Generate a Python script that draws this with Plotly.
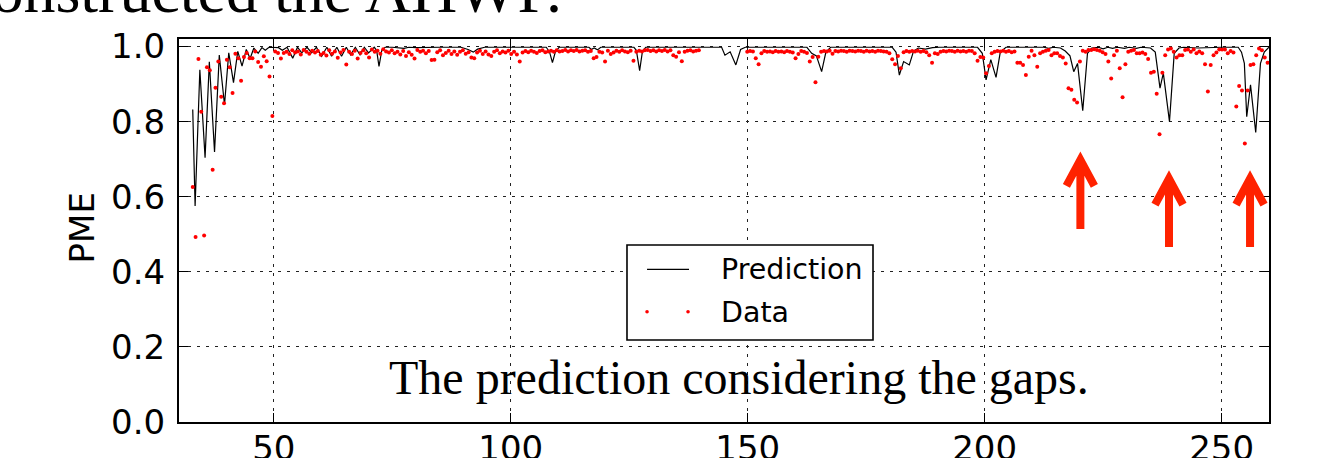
import numpy as np
import plotly.graph_objects as go

# ---------------- data ----------------
pred_x = [
    32.9, 33.4, 34.4, 35.5, 36.4, 37.5, 38.5, 39.6, 40.5, 41.5,
    42.4, 43.3, 44.2, 45.0, 45.8, 46.7, 47.5, 48.2, 49.0, 50.0,
    51.0, 51.8, 52.8, 54.0, 55.0, 55.9, 57.0, 58.0, 59.0, 60.1,
    61.2, 62.2, 63.3, 64.3, 65.3, 66.2, 67.2, 68.2, 69.1, 70.0,
    71.2, 71.7, 72.2, 72.8, 73.5, 75.0, 77.5, 78.5, 80.0, 85.0,
    89.5, 91.0, 92.1, 93.0, 94.5, 107.5, 108.2, 108.8, 109.4, 110.2,
    116.5, 117.0, 117.6, 118.3, 119.0, 126.0, 126.5, 127.2, 127.8, 128.5,
    144.5, 145.2, 146.3, 147.5, 148.5, 149.5, 162.5, 163.5, 164.5, 165.6,
    166.5, 167.5, 180.5, 181.3, 182.0, 182.9, 184.1, 185.0, 186.0, 187.5,
    189.0, 190.5, 198.5, 199.5, 200.3, 201.3, 202.4, 203.3, 204.5, 212.5,
    213.5, 214.5, 216.0, 217.0, 218.0, 218.8, 219.6, 220.7, 221.7, 222.6,
    224.0, 225.0, 226.0, 227.0, 228.0, 229.5, 230.5, 232.0, 233.0, 235.0,
    236.0, 237.0, 237.7, 239.0, 240.0, 241.0, 242.0, 245.0, 248.0, 250.0,
    253.5, 254.2, 254.8, 255.3, 256.1, 257.2, 258.2, 259.0, 260.0,
]
pred_y = [
    0.832, 0.575, 0.938, 0.704, 0.959, 0.719, 0.977, 0.845, 0.983, 0.904,
    0.987, 0.948, 0.992, 0.968, 0.996, 0.982, 0.997, 0.990, 0.998, 0.998,
    0.997, 0.990, 0.998, 0.969, 0.998, 0.983, 0.998, 0.983, 0.998, 0.974,
    0.998, 0.974, 0.998, 0.974, 0.998, 0.978, 0.998, 0.978, 0.998, 0.983,
    0.998, 0.990, 0.947, 0.990, 0.998, 0.998, 0.995, 0.998, 0.997, 0.998,
    0.998, 0.992, 0.985, 0.993, 0.998, 0.998, 0.985, 0.957, 0.985, 0.998,
    0.998, 0.992, 0.996, 0.991, 0.998, 0.998, 0.990, 0.936, 0.988, 0.998,
    0.998, 0.977, 0.986, 0.951, 0.992, 0.998, 0.998, 0.982, 0.975, 0.933,
    0.985, 0.998, 0.998, 0.985, 0.924, 0.960, 0.951, 0.988, 0.996, 0.993,
    0.997, 0.998, 0.998, 0.982, 0.911, 0.965, 0.918, 0.985, 0.998, 0.998,
    0.995, 0.998, 0.996, 0.988, 0.975, 0.933, 0.955, 0.829, 0.982, 0.996,
    0.998, 0.994, 0.998, 0.995, 0.998, 0.995, 0.998, 0.995, 0.998, 0.996,
    0.985, 0.889, 0.929, 0.800, 0.982, 0.996, 0.998, 0.996, 0.998, 0.998,
    0.998, 0.985, 0.955, 0.813, 0.898, 0.771, 0.955, 0.985, 0.998,
]

# measured samples: two runs separated by a gap, one sample every 0.6 units
data_start = [32.9, 149.9]
data_step = 0.6
data_y_run1 = [
    0.626, 0.493, 0.967, 0.826, 0.497, 0.945, 0.937, 0.672, 0.890, 0.960,
    0.866, 0.849, 0.965, 0.945, 0.876, 0.981, 0.969, 0.909, 0.972, 0.983,
    0.969, 0.969, 0.987, 0.959, 0.946, 0.974, 0.961, 0.920, 0.815, 0.987,
    0.983, 0.968, 0.983,
    0.986, 0.980, 0.990, 0.984, 0.987, 0.979, 0.991, 0.986, 0.981, 0.989,
    0.984, 0.988, 0.978, 0.983, 0.976, 0.990, 0.981, 0.987, 0.970, 0.984,
    0.991, 0.952, 0.986, 0.980, 0.989, 0.968, 0.983, 0.990, 0.982, 0.971,
    0.992, 0.986, 0.989, 0.981, 0.993, 0.987, 0.984, 0.990, 0.982, 0.986,
    0.979, 0.988, 0.975, 0.985, 0.978, 0.968, 0.991, 0.986, 0.989, 0.982,
    0.988, 0.964, 0.965, 0.985, 0.990, 0.977, 0.983, 0.989, 0.980, 0.987,
    0.978, 0.986, 0.990, 0.981, 0.985, 0.971, 0.969, 0.984, 0.989, 0.980,
    0.987, 0.979, 0.975, 0.986, 0.990, 0.982, 0.987, 0.984, 0.989, 0.980,
    0.986, 0.979, 0.960, 0.984, 0.988, 0.985, 0.989, 0.986, 0.983, 0.988,
    0.990, 0.985, 0.987, 0.989, 0.986, 0.990, 0.987, 0.988, 0.991, 0.987,
    0.990, 0.988, 0.991, 0.987, 0.989, 0.990, 0.986, 0.988, 0.969, 0.972,
    0.986, 0.984, 0.960, 0.989, 0.980, 0.984, 0.989, 0.986, 0.990, 0.987,
    0.985, 0.989, 0.962, 0.986, 0.989, 0.987, 0.990, 0.991, 0.988, 0.990,
    0.987, 0.990, 0.988, 0.991, 0.987, 0.990, 0.977, 0.973, 0.985, 0.961,
    0.986, 0.989, 0.990, 0.987, 0.989, 0.990,
]
data_y_run2 = [
    0.986, 0.988, 0.987, 0.969, 0.953, 0.982, 0.988, 0.986, 0.987, 0.985,
    0.988, 0.986, 0.987, 0.985, 0.988, 0.986, 0.984, 0.969, 0.980, 0.988,
    0.986, 0.983, 0.960, 0.972, 0.905, 0.973, 0.986, 0.988, 0.987, 0.989,
    0.981, 0.988, 0.987, 0.989, 0.988, 0.986, 0.989, 0.988, 0.987, 0.989,
    0.988, 0.986, 0.989, 0.987, 0.988, 0.986, 0.989, 0.988, 0.987, 0.986,
    0.982, 0.966, 0.953, 0.975, 0.942, 0.985, 0.988, 0.986, 0.988, 0.987,
    0.989, 0.986, 0.988, 0.985, 0.977, 0.957, 0.982, 0.980, 0.986, 0.988,
    0.987, 0.989, 0.988, 0.986, 0.989, 0.987, 0.988, 0.986, 0.989, 0.988,
    0.982, 0.962, 0.972, 0.971, 0.929, 0.948, 0.982, 0.986, 0.988, 0.987,
    0.989, 0.986, 0.988, 0.985, 0.987, 0.957, 0.957, 0.951, 0.924, 0.973,
    0.989, 0.977, 0.946, 0.982, 0.986, 0.989, 0.991, 0.977, 0.982, 0.982,
    0.975, 0.971, 0.955, 0.889, 0.885, 0.858, 0.851, 0.960, 0.989, 0.986,
    0.991, 0.991, 0.993, 0.991, 0.989, 0.985, 0.980, 0.960, 0.915, 0.977,
    0.989, 0.942, 0.865, 0.953, 0.986, 0.989, 0.991, 0.982, 0.982, 0.984,
    0.980, 0.967, 0.930, 0.933, 0.874, 0.766, 0.930, 0.977, 0.992, 0.995,
    0.986, 0.971, 0.977, 0.977, 0.991, 0.992, 0.986, 0.992, 0.982, 0.987,
    0.982, 0.953, 0.880, 0.951, 0.977, 0.984, 0.992, 0.992, 0.992, 0.982,
    0.988, 0.984, 0.840, 0.895, 0.883, 0.742, 0.883, 0.951, 0.953, 0.977,
    0.995, 0.990, 0.971, 0.957,
]

x_ticks = [50, 100, 150, 200, 250]
y_ticks = [0.0, 0.2, 0.4, 0.6, 0.8, 1.0]
y_tick_text = ["0.0", "0.2", "0.4", "0.6", "0.8", "1.0"]

# arrows pointing at the gap-induced dips (x, tip, base in data units)
arrow_x = [220.2, 238.9, 256.0]
arrow_tip = [0.698, 0.648, 0.648]
arrow_base = [0.514, 0.466, 0.466]

assert len(pred_x) == len(pred_y)

data_x = np.concatenate([
    data_start[0] + data_step * np.arange(len(data_y_run1)),
    data_start[1] + data_step * np.arange(len(data_y_run2)),
])
data_y = np.array(data_y_run1 + data_y_run2)

# ---------------- styling ----------------
SANS = "DejaVu Sans"
SERIF = "Liberation Serif"
ARROW_COLOR = "#ff2200"
HEAD_HALF_W = 2.95
HEAD_DROP = 0.069

fig = go.Figure()
fig.add_trace(go.Scatter(x=pred_x, y=pred_y, mode="lines",
                         line=dict(color="black", width=1.2),
                         name="Prediction", showlegend=False))
fig.add_trace(go.Scatter(x=data_x, y=data_y, mode="markers",
                         marker=dict(color="#ff0000", size=4, line=dict(width=0)),
                         name="Data", showlegend=False))

shapes = []
for ax_, tip, base in zip(arrow_x, arrow_tip, arrow_base):
    path = (f"M {ax_},{base} L {ax_},{tip} "
            f"M {ax_ - HEAD_HALF_W},{tip - HEAD_DROP} L {ax_},{tip} "
            f"L {ax_ + HEAD_HALF_W},{tip - HEAD_DROP}")
    shapes.append(dict(type="path", xref="x", yref="y", path=path,
                       line=dict(color=ARROW_COLOR, width=8), layer="above"))

# custom legend (matplotlib style with two marker points)
shapes.append(dict(type="rect", xref="paper", yref="paper",
                   x0=0.411, x1=0.6367, y0=0.2141, y1=0.4621,
                   fillcolor="white", line=dict(color="black", width=1.6),
                   layer="above"))
shapes.append(dict(type="line", xref="paper", yref="paper",
                   x0=0.4294, x1=0.4679, y0=0.3987, y1=0.3987,
                   line=dict(color="black", width=1.2), layer="above"))
for lx in [0.4294, 0.4670]:
    shapes.append(dict(type="circle", xref="paper", yref="paper",
                       xsizemode="pixel", ysizemode="pixel",
                       xanchor=lx, yanchor=0.288,
                       x0=-1.8, x1=1.8, y0=-1.8, y1=1.8,
                       fillcolor="#ff0000", line=dict(width=0), layer="above"))

annotations = [
    dict(text="Prediction", xref="paper", yref="paper", x=0.4954, y=0.3990,
         xanchor="left", yanchor="middle", showarrow=False,
         font=dict(family=SANS, size=28.5, color="black")),
    dict(text="Data", xref="paper", yref="paper", x=0.4954, y=0.2859,
         xanchor="left", yanchor="middle", showarrow=False,
         font=dict(family=SANS, size=28.5, color="black")),
    dict(text="The prediction considering the gaps.", xref="paper", yref="paper",
         x=0.5142, y=0.0407, xanchor="center", yanchor="bottom", showarrow=False,
         font=dict(family=SERIF, size=48, color="black")),
    dict(text="constructed the AHWP.", xref="paper", yref="paper",
         x=-0.2, y=1.03, xanchor="left", yanchor="bottom", showarrow=False,
         font=dict(family=SERIF, size=64, color="black")),
    dict(text="PME", xref="paper", yref="paper", x=-0.089, y=0.508,
         xanchor="center", yanchor="middle", textangle=-90, showarrow=False,
         font=dict(family=SANS, size=34, color="black")),
]

axis_common = dict(
    showline=True, linecolor="black", linewidth=2, mirror="ticks",
    ticks="inside", ticklen=9, tickwidth=1.2, tickcolor="black",
    showgrid=True, gridcolor="#222222", gridwidth=1.2, griddash="3px,6px",
    zeroline=False, automargin=False,
    tickfont=dict(family=SANS, size=34, color="black"),
)

fig.update_layout(
    width=1326, height=458,
    margin=dict(l=179, r=57, t=39, b=36, pad=0, autoexpand=False),
    paper_bgcolor="white", plot_bgcolor="white",
    showlegend=False,
    xaxis=dict(range=[30, 260], tickvals=x_ticks, ticklabelstandoff=-5, **axis_common),
    yaxis=dict(range=[0, 1.02], tickvals=y_ticks, ticktext=y_tick_text,
               ticklabelstandoff=5, **axis_common),
    shapes=shapes,
    annotations=annotations,
)

fig.write_html("out.html")
